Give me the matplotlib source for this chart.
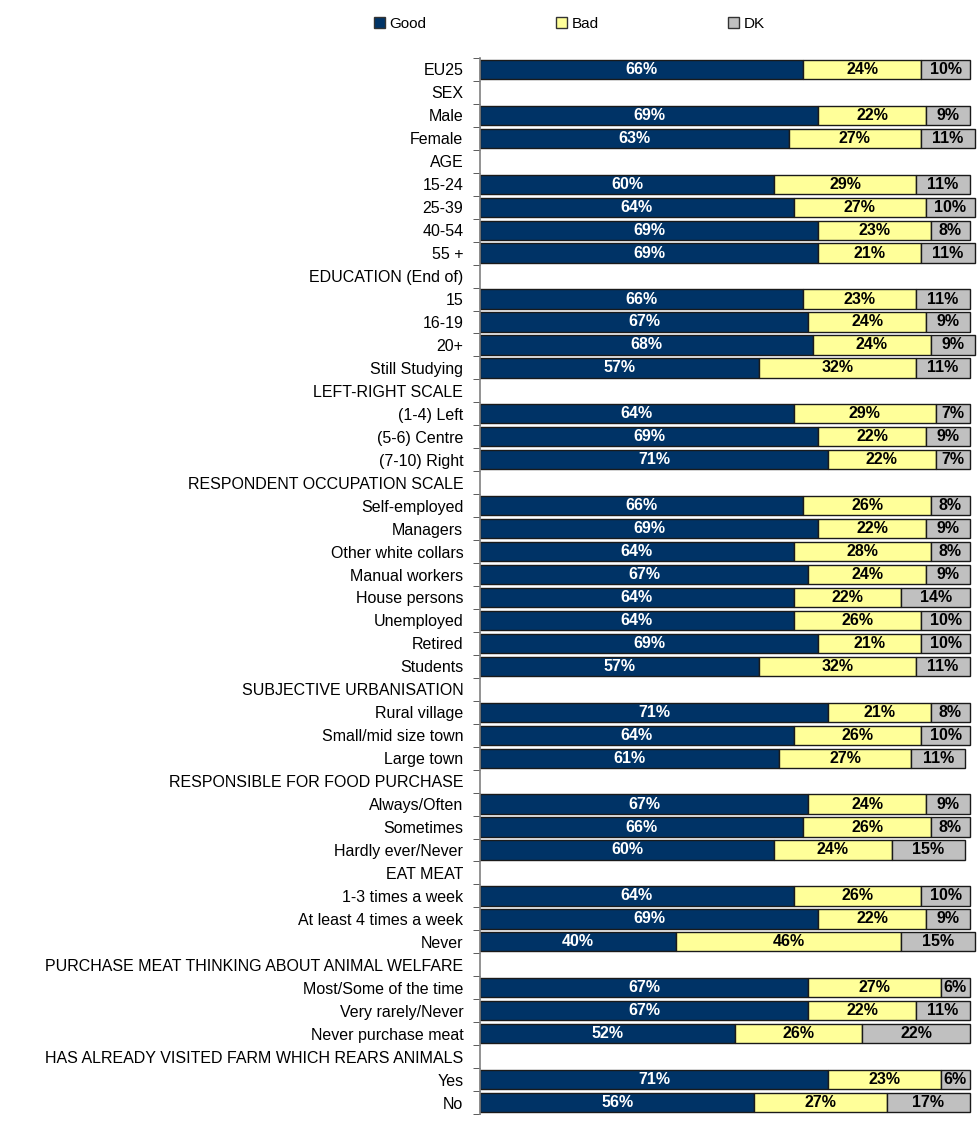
import numpy as np
import matplotlib
matplotlib.use("Agg")
import matplotlib.pyplot as plt
from matplotlib.patches import Patch

plt.rcParams['font.family'] = ['Liberation Sans', 'DejaVu Sans']

# rows from top to bottom; header rows have no values (None)
labels = [
    "EU25", "SEX", "Male", "Female", "AGE", "15-24", "25-39", "40-54", "55 +",
    "EDUCATION (End of)", "15", "16-19", "20+", "Still Studying",
    "LEFT-RIGHT SCALE", "(1-4) Left", "(5-6) Centre", "(7-10) Right",
    "RESPONDENT OCCUPATION SCALE", "Self-employed", "Managers", "Other white collars",
    "Manual workers", "House persons", "Unemployed", "Retired", "Students",
    "SUBJECTIVE URBANISATION", "Rural village", "Small/mid size town", "Large town",
    "RESPONSIBLE FOR FOOD PURCHASE", "Always/Often", "Sometimes", "Hardly ever/Never",
    "EAT MEAT", "1-3 times a week", "At least 4 times a week", "Never",
    "PURCHASE MEAT THINKING ABOUT ANIMAL WELFARE", "Most/Some of the time",
    "Very rarely/Never", "Never purchase meat",
    "HAS ALREADY VISITED FARM WHICH REARS ANIMALS", "Yes", "No",
]
good = [66, None, 69, 63, None, 60, 64, 69, 69, None, 66, 67, 68, 57,
        None, 64, 69, 71, None, 66, 69, 64, 67, 64, 64, 69, 57,
        None, 71, 64, 61, None, 67, 66, 60, None, 64, 69, 40,
        None, 67, 67, 52, None, 71, 56]
bad = [24, None, 22, 27, None, 29, 27, 23, 21, None, 23, 24, 24, 32,
       None, 29, 22, 22, None, 26, 22, 28, 24, 22, 26, 21, 32,
       None, 21, 26, 27, None, 24, 26, 24, None, 26, 22, 46,
       None, 27, 22, 26, None, 23, 27]
dk = [10, None, 9, 11, None, 11, 10, 8, 11, None, 11, 9, 9, 11,
      None, 7, 9, 7, None, 8, 9, 8, 9, 14, 10, 10, 11,
      None, 8, 10, 11, None, 9, 8, 15, None, 10, 9, 15,
      None, 6, 11, 22, None, 6, 17]

series = [("Good", good, "#003366", "white"),
          ("Bad", bad, "#FFFF99", "black"),
          ("DK", dk, "#C0C0C0", "black")]

fig = plt.figure(figsize=(9.8, 11.39), dpi=100)
ax = fig.add_axes([480 / 980, 1 - 1114 / 1139, 490 / 980, 1056 / 1139])

n = len(labels)
y = np.arange(n)
left = np.zeros(n)
for name, vals, color, tcolor in series:
    v = np.array([np.nan if x is None else x for x in vals], dtype=float)
    w = np.nan_to_num(v)
    bars = ax.barh(y, w, left=left, height=0.84, color=color,
                   edgecolor="#1a1a1a", linewidth=1.0, clip_on=False)
    for i, val in enumerate(v):
        if np.isnan(val):
            bars[i].set_visible(False)
            continue
        ax.text(left[i] + val / 2, y[i], f"{int(val)}%", ha="center", va="center",
                color=tcolor, fontsize=11.5, fontweight="bold")
    left = left + w

ax.set_xlim(0, 100)
ax.set_ylim(n - 0.5, -0.5)
ax.set_xticks([])
ax.set_yticks(y)
ax.set_yticklabels(labels, fontsize=11.5)
ax.set_yticks(np.arange(n + 1) - 0.5, minor=True)
ax.tick_params(axis="y", which="major", length=0, pad=12)
ax.tick_params(axis="y", which="minor", length=5, color="#404040", direction="out")
for s in ("top", "right", "bottom"):
    ax.spines[s].set_visible(False)
ax.spines["left"].set_color("#808080")
ax.spines["left"].set_linewidth(1.2)

handles = [Patch(facecolor=c, edgecolor="#333333", label=nm) for nm, _, c, _ in series]
fig.legend(handles=handles, loc="center", bbox_to_anchor=(0.581, 0.979), ncol=3,
           frameon=False, fontsize=11, handlelength=0.7, handleheight=0.7,
           handletextpad=0.3, columnspacing=8.5)

fig.savefig("out.png", dpi=100)
